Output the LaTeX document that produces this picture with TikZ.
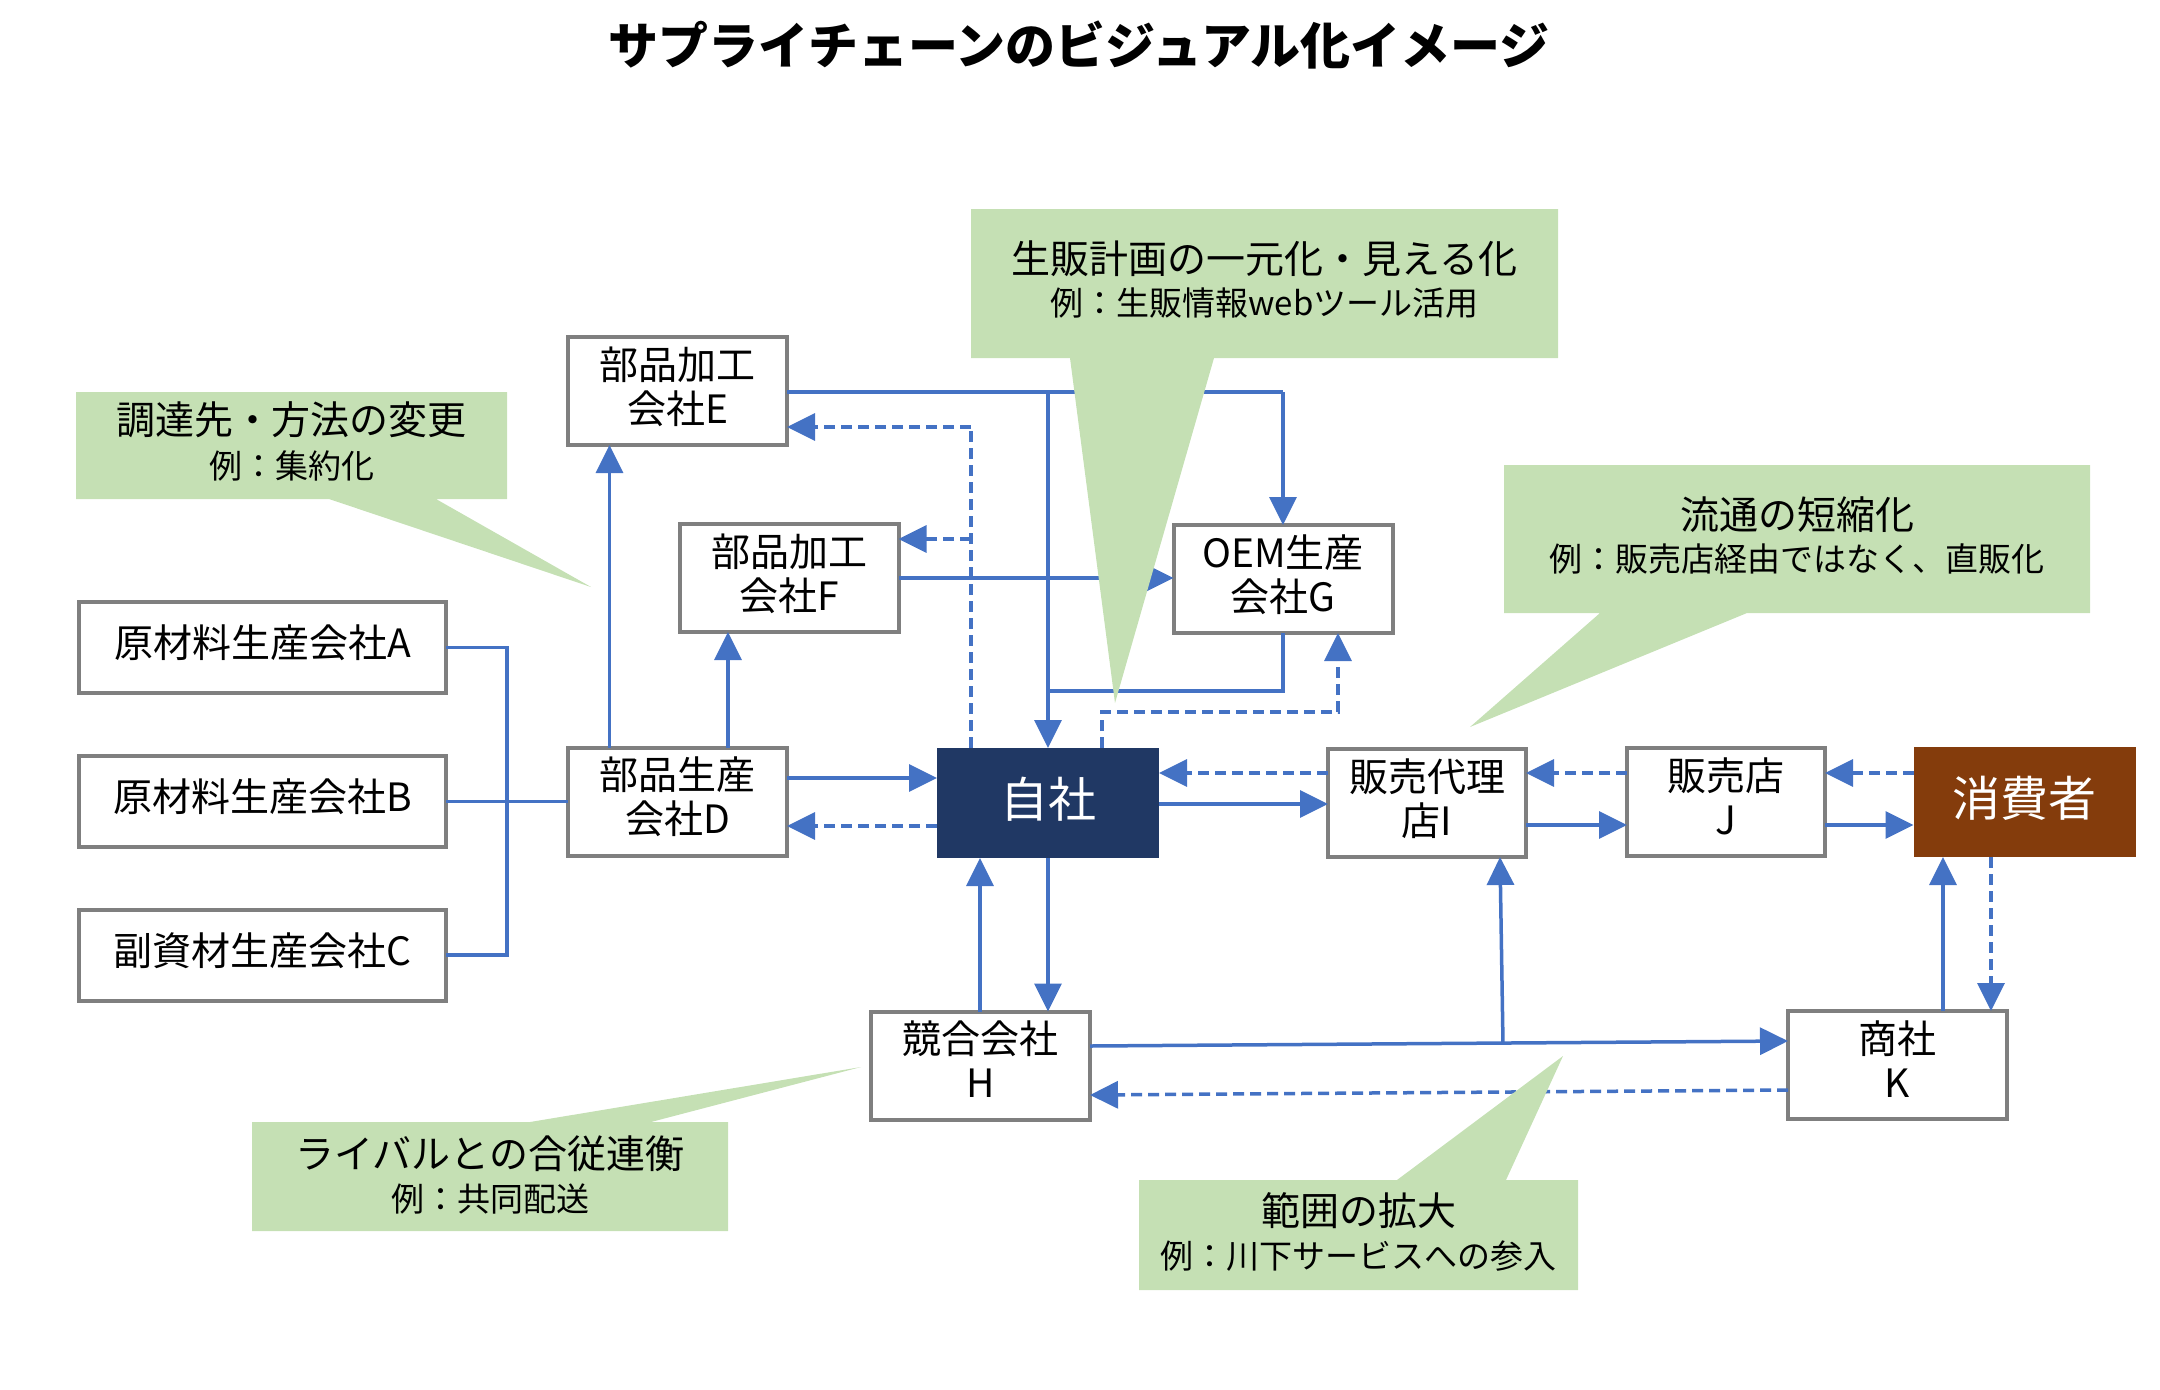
\documentclass[tikz,border=0pt]{standalone}
\usepackage{fontspec}
\setmainfont{Noto Sans CJK JP}
\usetikzlibrary{arrows.meta}
\definecolor{lnblue}{HTML}{4472C4}
\definecolor{bxgray}{HTML}{7F7F7F}
\definecolor{selfnavy}{HTML}{203864}
\definecolor{consbrown}{HTML}{843C0C}
\definecolor{callg}{HTML}{C5E0B4}
\begin{document}
\begin{tikzpicture}[x=0.5pt,y=-0.5pt,
  box/.style={draw=bxgray, line width=2pt, fill=white, inner sep=0pt, outer sep=0pt,
    align=center, font=\fontsize{19.5}{22}\selectfont, minimum width=109.5pt, minimum height=54pt,
    text depth=6pt},
  widebox/.style={box, minimum width=183.5pt, minimum height=45.5pt},
  midbox/.style={box, minimum width=99pt},
  darkbox/.style={inner sep=0pt, outer sep=0pt, text=white, font=\fontsize{24}{28}\selectfont,
    minimum width=111pt, minimum height=55pt, text depth=6pt},
  conn/.style={draw=lnblue, line width=1.75pt},
  arr/.style={conn, -{Triangle[length=14pt,width=13.5pt]}},
  darr/.style={arr, dash pattern=on 5.5pt off 3pt},
  dline/.style={conn, dash pattern=on 5.5pt off 3pt},
  callout/.style={fill=callg, draw=none},
  cmain/.style={font=\fontsize{19.5}{22}\selectfont, inner sep=0pt},
  csub/.style={font=\fontsize{16.5}{20}\selectfont, inner sep=0pt}
]
\useasboundingbox (0,0) rectangle (2160,1389);

% title
\node[font=\fontsize{25}{30}\selectfont\bfseries, inner sep=0pt] (title) at (1079,45) {サプライチェーンのビジュアル化イメージ};

% boxes
\node[box] (E) at (677.5,391) {部品加工\\会社E};
\node[box] (F) at (789,578) {部品加工\\会社F};
\node[box] (G) at (1283,579) {OEM生産\\会社G};
\node[widebox] (A) at (262.5,647.5) {原材料生産会社A};
\node[widebox] (B) at (262.5,801.5) {原材料生産会社B};
\node[widebox] (C) at (262.5,955) {副資材生産会社C};
\node[box] (D) at (677.5,801.5) {部品生産\\会社D};
\node[darkbox, fill=selfnavy] (S) at (1048,803) {自社};
\node[midbox] (I) at (1427,803) {販売代理\\店I};
\node[midbox] (J) at (1726,802) {販売店\\J};
\node[darkbox, fill=consbrown] (P) at (2024.5,802) {消費者};
\node[box] (H) at (980.5,1065.5) {競合会社\\H};
\node[box] (K) at (1897.5,1065) {商社\\K};

% raw material bus
\draw[conn] (A.east) -- (507,647.5) |- (C.east);
\draw[conn] (B.east) -- (D.west);

% D to E, F
\draw[arr] (609.5,0 |- D.north) -- (609.5,0 |- E.south);
\draw[arr] (728,0 |- D.north) -- (728,0 |- F.south);

% D <-> self
\draw[arr] (D.east |- 0,778) -- (S.west |- 0,778);
\draw[darr] (S.west |- 0,826) -- (D.east |- 0,826);

% E -> G and E -> self
\draw[conn] (E.east |- 0,392) -- (G.north |- 0,392);
\draw[arr] (G.north |- 0,392) -- (G.north);
\draw[arr] (S.north |- 0,392) -- (S.north);
\draw[conn] (G.south) -- (G.south |- 0,691) -- (S.north |- 0,691);

% F -> G
\draw[arr] (F.east |- 0,578) -- (G.west |- 0,578);

% self -> E, F (dashed)
\draw[dline] (971,0 |- S.north) -- (971,427);
\draw[darr] (971,427) -- (E.east |- 0,427);
\draw[darr] (971,539) -- (F.east |- 0,539);

% self -> G (dashed)
\draw[darr] (1102,0 |- S.north) -- (1102,712) -- (1338,712) -- (1338,0 |- G.south);

% self <-> I
\draw[arr] (S.east |- 0,804) -- (I.west |- 0,804);
\draw[darr] (I.west |- 0,773) -- (S.east |- 0,773);

% I <-> J
\draw[arr] (I.east |- 0,825) -- (J.west |- 0,825);
\draw[darr] (J.west |- 0,773) -- (I.east |- 0,773);

% J <-> consumer
\draw[arr] (J.east |- 0,825) -- (P.west |- 0,825);
\draw[darr] (P.west |- 0,773) -- (J.east |- 0,773);

% self <-> H
\draw[arr] (S.south) -- (1048,0 |- H.north);
\draw[arr] (980,0 |- H.north) -- (980,0 |- S.south);

% H <-> K
\draw[arr] (H.east |- 0,1046) -- (K.west |- 0,1041);
\coordinate (hk) at (1503,1043.5);
\draw[arr] (hk) -- (1500,0 |- I.south);
\draw[darr] (K.west |- 0,1090) -- (H.east |- 0,1095);

% K <-> consumer
\draw[arr] (1943,0 |- K.north) -- (1943,0 |- P.south);
\draw[darr] (1991,0 |- P.south) -- (1991,0 |- K.north);

% callouts
\fill[callout] (76,392) -- (507,392) -- (507,499) -- (436,499) -- (591,587) -- (329,499) -- (76,499) -- cycle;
\node[cmain] (c1a) at (291.5,420) {調達先・方法の変更};
\node[csub] (c1b) at (291.5,466) {例：集約化};

\fill[callout] (971,209) -- (1558,209) -- (1558,358) -- (1214,358) -- (1115,703) -- (1070,358) -- (971,358) -- cycle;
\node[cmain] (c2a) at (1264.5,259) {生販計画の一元化・見える化};
\node[csub] (c2b) at (1264.5,303) {例：生販情報webツール活用};

\fill[callout] (1504,465) -- (2090,465) -- (2090,613) -- (1747,613) -- (1470,727) -- (1600,613) -- (1504,613) -- cycle;
\node[cmain] (c3a) at (1797,515) {流通の短縮化};
\node[csub] (c3b) at (1797,559) {例：販売店経由ではなく、直販化};

\fill[callout] (252,1122) -- (530,1122) -- (861,1067) -- (651,1122) -- (728,1122) -- (728,1231) -- (252,1231) -- cycle;
\node[cmain] (c4a) at (490,1154) {ライバルとの合従連衡};
\node[csub] (c4b) at (490,1199) {例：共同配送};

\fill[callout] (1139,1180) -- (1397,1180) -- (1563,1056) -- (1506,1180) -- (1578,1180) -- (1578,1290) -- (1139,1290) -- cycle;
\node[cmain] (c5a) at (1358.5,1211) {範囲の拡大};
\node[csub] (c5b) at (1358.5,1256) {例：川下サービスへの参入};
\end{tikzpicture}
\end{document}
